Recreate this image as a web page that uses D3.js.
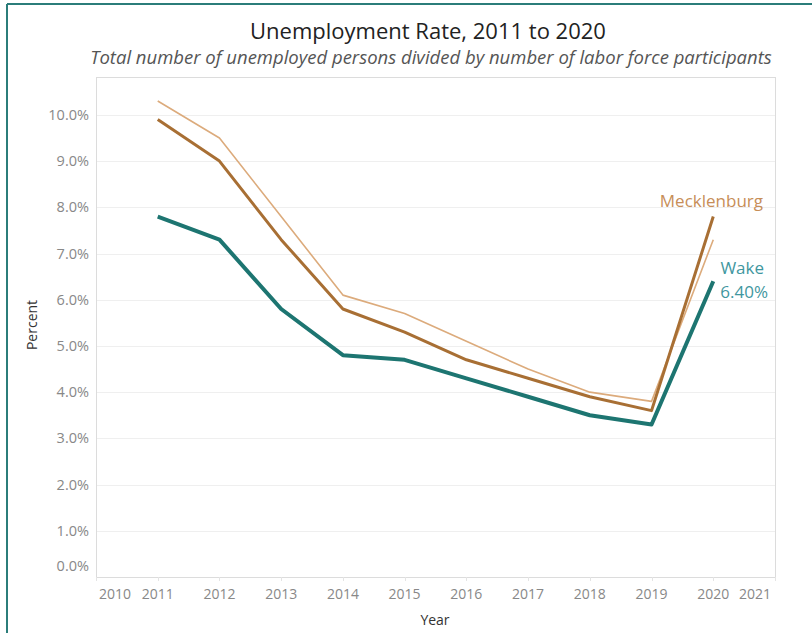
<!DOCTYPE html>
<html>
<head>
<meta charset="utf-8">
<script src="https://cdn.jsdelivr.net/npm/d3@7"></script>
<style>
  body { margin: 0; background: #fff; }
  svg { display: block; font-family: "Open Sans", sans-serif; }
</style>
</head>
<body>
<svg id="chart" width="812" height="633"></svg>
<script>
// data
const years = [2011, 2012, 2013, 2014, 2015, 2016, 2017, 2018, 2019, 2020];
const wake = [7.8, 7.3, 5.8, 4.8, 4.7, 4.3, 3.9, 3.5, 3.3, 6.4];
const mecklenburg = [9.9, 9.0, 7.3, 5.8, 5.3, 4.7, 4.3, 3.9, 3.6, 7.8];
const comparison = [10.3, 9.5, 7.8, 6.1, 5.7, 5.1, 4.5, 4.0, 3.8, 7.3];
const yTicks = [0, 1, 2, 3, 4, 5, 6, 7, 8, 9, 10];
const xTicks = [2010, 2011, 2012, 2013, 2014, 2015, 2016, 2017, 2018, 2019, 2020, 2021];

const svg = d3.select('#chart');
const plot = { left: 96, right: 775, top: 77, bottom: 577 };

const x = d3.scaleLinear().domain([2010, 2021]).range([plot.left, plot.right]);
const y = d3.scaleLinear().domain([0, 10.82]).range([plot.bottom, plot.top]);

// frame (top + left teal rule)
svg.append('line').attr('x1', 7).attr('x2', 812).attr('y1', 4).attr('y2', 4)
  .attr('stroke', '#2b7d7a').attr('stroke-width', 2);
svg.append('line').attr('x1', 7).attr('x2', 7).attr('y1', 4).attr('y2', 633)
  .attr('stroke', '#2b7d7a').attr('stroke-width', 2);

// titles
svg.append('text').attr('x', 428).attr('y', 39).attr('text-anchor', 'middle')
  .attr('font-size', 22).attr('fill', '#222')
  .text('Unemployment Rate, 2011 to 2020');
svg.append('text').attr('x', 431).attr('y', 64).attr('text-anchor', 'middle')
  .attr('font-size', 18.5).attr('font-style', 'italic').attr('fill', '#555')
  .text('Total number of unemployed persons divided by number of labor force participants');

// gridlines
svg.append('g').selectAll('line').data(yTicks.filter(d => d > 0)).join('line')
  .attr('x1', plot.left).attr('x2', plot.right)
  .attr('y1', d => Math.round(y(d)) + 0.5).attr('y2', d => Math.round(y(d)) + 0.5)
  .attr('stroke', '#efefef');

// plot box
svg.append('rect').attr('x', plot.left + 0.5).attr('y', plot.top + 0.5)
  .attr('width', plot.right - plot.left).attr('height', plot.bottom - plot.top)
  .attr('fill', 'none').attr('stroke', '#dcdcdc');

// y axis labels
svg.append('g').selectAll('text').data(yTicks).join('text')
  .attr('x', 89)
  .attr('y', d => d === 0 ? y(d) - 6 : y(d) + 5)
  .attr('text-anchor', 'end').attr('font-size', 14.5).attr('fill', '#888')
  .text(d => d3.format('.1f')(d) + '%');

// x axis ticks + labels
const xAxis = svg.append('g');
xAxis.selectAll('line').data(xTicks).join('line')
  .attr('x1', d => Math.round(x(d)) + 0.5).attr('x2', d => Math.round(x(d)) + 0.5)
  .attr('y1', plot.bottom).attr('y2', plot.bottom + 4)
  .attr('stroke', '#e4e4e4');
xAxis.selectAll('text').data(xTicks).join('text')
  .attr('x', d => d === 2010 ? x(d) + 19 : d === 2021 ? x(d) - 20 : x(d))
  .attr('y', 599).attr('text-anchor', 'middle')
  .attr('font-size', 14).attr('fill', '#888')
  .text(d => d);

// axis titles
svg.append('text').attr('transform', 'translate(37,325) rotate(-90)')
  .attr('text-anchor', 'middle').attr('font-size', 14).attr('fill', '#333')
  .text('Percent');
svg.append('text').attr('x', 435).attr('y', 625).attr('text-anchor', 'middle')
  .attr('font-size', 14).attr('fill', '#333').text('Year');

// lines
const line = d3.line().x((d, i) => x(years[i])).y(d => y(d));
const series = [
  { values: comparison, color: '#dcab7c', width: 1.6 },
  { values: mecklenburg, color: '#a86f34', width: 3 },
  { values: wake, color: '#1d7571', width: 4 }
];
svg.append('g').selectAll('path').data(series).join('path')
  .attr('d', d => line(d.values))
  .attr('fill', 'none')
  .attr('stroke', d => d.color)
  .attr('stroke-width', d => d.width)
  .attr('stroke-linejoin', 'round');

// end labels
svg.append('text').attr('x', 763).attr('y', 207).attr('text-anchor', 'end')
  .attr('font-size', 17).attr('fill', '#c78e58').text('Mecklenburg');
svg.append('text').attr('x', 764).attr('y', 274).attr('text-anchor', 'end')
  .attr('font-size', 17).attr('fill', '#3f97a0').text('Wake');
svg.append('text').attr('x', 768).attr('y', 298).attr('text-anchor', 'end')
  .attr('font-size', 17).attr('fill', '#3f97a0')
  .text(d3.format('.2f')(wake[wake.length - 1]) + '%');
</script>
</body>
</html>
